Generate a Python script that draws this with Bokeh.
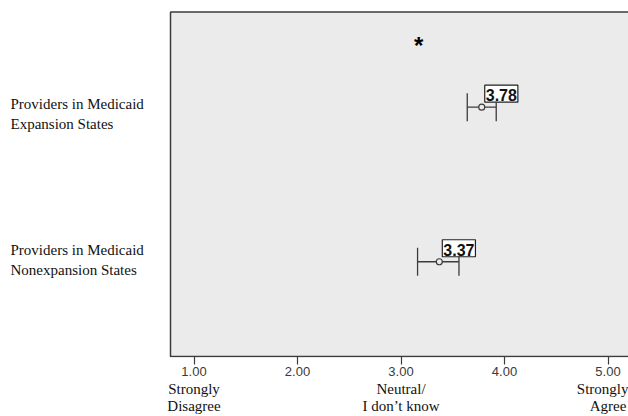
from bokeh.plotting import figure
from bokeh.models import (Range1d, Whisker, TeeHead, Label, LinearAxis,
                          FixedTicker, ColumnDataSource)
from bokeh.embed import file_html
from bokeh.resources import INLINE

# ---- data ----
group_lines_1 = ["Providers in Medicaid", "Providers in Medicaid"]
group_lines_2 = ["Expansion States", "Nonexpansion States"]
group_pos = [2, 1]
group_label_y = [2.02, 1.078]
means = [3.78, 3.37]
lower = [3.64, 3.16]
upper = [3.92, 3.56]
mean_text = ["3.78", "3.37"]
ticks = [1, 2, 3, 4, 5]
tick_labels = ["1.00", "2.00", "3.00", "4.00", "5.00"]
anchor_line_1 = ["Strongly", "", "Neutral/", "", "Strongly"]
anchor_line_2 = ["Disagree", "", "I don\u2019t know", "", "Agree"]
sig_mark = ["*"]
sig_x = [3.17]
sig_y = [2.40]

# ---- geometry (ranges / panel edges) ----
X0, X1 = -0.8696, 5.198          # full frame
PX0 = 0.773                      # left edge of grey panel
Y0, Y1 = 0.3803, 2.6905          # full frame
PY0, PY1 = 0.3867, 2.6165        # grey panel bottom / top
BG = "#ebebeb"
EDGE = "#3c3c3c"

p = figure(width=628, height=416, output_backend="svg", toolbar_location=None,
           x_range=Range1d(X0, X1), y_range=Range1d(Y0, Y1),
           min_border_left=0, min_border_right=0, min_border_top=0,
           min_border_bottom=57, background_fill_color="white",
           border_fill_color="white", outline_line_color=None)
p.grid.visible = False
p.yaxis.visible = False

# grey panel with its border (right side clipped away by the frame)
panel = p.quad(left=[PX0], right=[X1 + 1], bottom=[PY0], top=[PY1],
               fill_color=BG, line_color=EDGE, line_width=1.5)
panel.level = "image"

# bottom axis (numbers)
xa = p.xaxis[0]
xa.ticker = FixedTicker(ticks=ticks)
xa.major_label_overrides = {t: l for t, l in zip(ticks, tick_labels)}
xa.minor_tick_line_color = None
xa.axis_line_color = None
xa.major_tick_in = 1
xa.major_tick_out = 7
xa.major_tick_line_color = EDGE
xa.major_tick_line_width = 1.2
xa.major_label_standoff = 2
xa.major_label_text_font = "Liberation Sans"
xa.major_label_text_font_size = "13px"
xa.major_label_text_color = "#3a3a3a"

# anchor descriptions: two single-line axes below the numbers
for lines, standoff in ((anchor_line_1, 2), (anchor_line_2, -2)):
    ax = LinearAxis(ticker=FixedTicker(ticks=ticks),
                    major_label_overrides={t: l for t, l in zip(ticks, lines)})
    ax.axis_line_color = None
    ax.major_tick_line_color = None
    ax.minor_tick_line_color = None
    ax.major_tick_in = 0
    ax.major_tick_out = 0
    ax.major_label_standoff = standoff
    ax.major_label_text_font = "Liberation Serif"
    ax.major_label_text_font_size = "15px"
    ax.major_label_text_color = "#111111"
    p.add_layout(ax, "below")

src = ColumnDataSource(dict(y=group_pos, m=means, lo=lower, hi=upper))
w = Whisker(source=src, base="y", lower="lo", upper="hi", dimension="width",
            line_color=EDGE, line_width=1.3,
            lower_head=TeeHead(size=28, line_color=EDGE, line_width=1.3),
            upper_head=TeeHead(size=28, line_color=EDGE, line_width=1.3))
w.level = "underlay"
p.add_layout(w)

p.scatter("m", "y", source=src, size=6, fill_color=BG, line_color=EDGE, line_width=1.2)

for m, y, t in zip(means, group_pos, mean_text):
    p.add_layout(Label(x=m, y=y, text=t, x_offset=3, y_offset=5,
                       text_align="left", text_baseline="bottom",
                       text_font="Liberation Sans", text_font_size="16px",
                       text_font_style="bold",
                       text_color="#111111", background_fill_color="white",
                       border_line_color="#222222", border_line_width=1.2,
                       padding=dict(left=1, right=1, top=4, bottom=1)))

# category labels (left, inside the frame's white area)
lab_src = ColumnDataSource(dict(
    x=[X0, X0, X0, X0],
    y=group_label_y + group_label_y,
    t=group_lines_1 + group_lines_2,
    dy=[0, 0, 20, 20]))
p.text(x="x", y="y", text="t", source=lab_src, x_offset=10, y_offset="dy",
       text_align="left", text_baseline="middle",
       text_font="Liberation Serif", text_font_size="15px", text_color="#111111")

p.text(x=sig_x, y=sig_y, text=sig_mark, text_font_size="24px",
       text_font_style="bold", text_align="center", text_baseline="middle",
       text_color="#000000")

open("out.html", "w").write(file_html(p, INLINE))
